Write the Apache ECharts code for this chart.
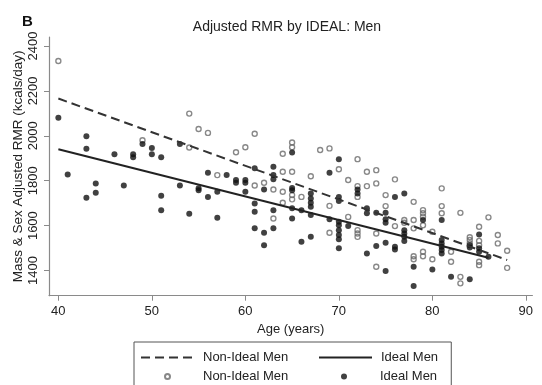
<!DOCTYPE html>
<html>
<head>
<meta charset="utf-8">
<script src="https://cdn.jsdelivr.net/npm/echarts@6/dist/echarts.min.js"></script>
<style>
  html, body { margin: 0; padding: 0; background: #fff; }
  #chart { width: 542px; height: 385px; }
</style>
</head>
<body>
<div id="chart"></div>
<script>
// scatter points [age, adjusted RMR]
let nonIdealPoints = [
  [40,2333],[49,1980],[54,2099],[54,1948],[55,2030],[56,2013],[57,1825],
  [59,1927],[60,1949],[61,2009],[61,1779],[62,1791],[63,1761],[63,1632],
  [64,1920],[64,1840],[64,1751],[64,1702],
  [65,1970],[65,1949],[65,1840],[65,1736],[65,1717],
  [66,1728],[67,1820],[68,1937],[69,1944],[69,1688],[69,1568],
  [70,1851],[71,1803],[71,1639],[72,1896],[72,1776],[72,1728],[72,1580],[72,1565],[72,1550],
  [73,1840],[73,1776],[74,1847],[74,1788],[74,1565],[74,1417],
  [75,1736],[75,1687],[76,1806],[76,1598],[77,1625],[77,1613],
  [78,1706],[78,1625],[78,1588],[78,1464],[78,1450],
  [79,1669],[79,1655],[79,1640],[79,1602],[79,1484],[79,1464],
  [80,1573],[80,1450],[81,1766],[81,1687],[81,1655],[82,1484],[82,1439],
  [83,1657],[83,1372],[83,1343],[84,1548],[84,1536],[84,1521],
  [85,1595],[85,1532],[85,1513],[85,1439],[85,1424],
  [86,1637],[87,1558],[87,1521],[88,1488],[88,1412]
];
let idealPoints = [
  [40,2080],[41,1828],[43,1998],[43,1942],[43,1724],[44,1788],[44,1746],[46,1918],[47,1779],
  [48,1918],[48,1904],[49,1963],[50,1946],[50,1918],[51,1904],[51,1733],[51,1669],[53,1963],
  [53,1779],[54,1653],[55,1766],[55,1758],[56,1835],[56,1728],[57,1751],[57,1635],
  [58,1825],[59,1803],[59,1791],[60,1803],[60,1791],[60,1751],[61,1856],[61,1699],[61,1662],
  [61,1588],[62,1761],[62,1568],[62,1513],[63,1862],[63,1825],[63,1806],[63,1669],[63,1588],
  [65,1926],[65,1768],[65,1758],[65,1677],[65,1632],[66,1669],[66,1528],[67,1743],[67,1721],
  [67,1702],[67,1684],[67,1647],[67,1550],[69,1835],[69,1628],
  [70,1896],[70,1728],[70,1710],[70,1617],[70,1602],[70,1580],[70,1558],[70,1539],[70,1499],
  [71,1598],[72,1761],[72,1743],[73,1677],[73,1655],[73,1476],
  [74,1657],[74,1509],[75,1657],[75,1628],[75,1613],[75,1524],[75,1398],[76,1728],[76,1506],
  [76,1494],[77,1743],[77,1580],[77,1565],[77,1550],[77,1532],[78,1417],[78,1331],[79,1625],
  [80,1405],[81,1625],[81,1536],[81,1521],[81,1506],[81,1491],[81,1476],[82,1372],[84,1361],
  [84,1513],[84,1503],[85,1561],[85,1499],[85,1484],[86,1461]
];

// fitted lines (end points)
let nonIdealFit = [[40,2166],[88,1447]];
let idealFit = [[40,1940],[86,1457]];

let xTicks = [40, 50, 60, 70, 80, 90];
let yTicks = [1400, 1600, 1800, 2000, 2200, 2400];

const fontFamily = '"Liberation Sans", Arial, sans-serif';
const axisGray = '#8a8a8a';
const noMarker = { color: 'rgba(0,0,0,0)', borderColor: 'rgba(0,0,0,0)', borderWidth: 0 };

// one legend per entry so each sits where the reference has it
function legendItem(name, left, top, textGap, extra) {
    return Object.assign({
        left: left,
        top: top,
        padding: 0,
        itemWidth: 53,
        itemHeight: 12,
        textStyle: { fontSize: 13, color: '#222', fontFamily: fontFamily, padding: [0, 0, 0, textGap] },
        data: [name]
    }, extra || {});
}

let options = {
    animation: false,
    textStyle: { fontFamily: fontFamily },
    title: [
        {
            text: 'B',
            left: 17,
            top: 9,
            textStyle: { fontSize: 15, fontWeight: 'bold', color: '#111', fontFamily: fontFamily }
        },
        {
            text: 'Adjusted RMR by IDEAL: Men',
            left: 282,
            top: 15,
            textAlign: 'center',
            textStyle: { fontSize: 14, fontWeight: 'normal', color: '#222', fontFamily: fontFamily }
        }
    ],
    grid: {
        left: 49,
        right: 9.6,
        top: 37,
        bottom: 89.3,
        outerBoundsMode: 'none'
    },
    xAxis: {
        type: 'value',
        min: 39,
        max: 90.7,
        name: 'Age (years)',
        nameLocation: 'middle',
        nameGap: 25,
        nameTextStyle: { fontSize: 13, color: '#222' },
        axisLine: { show: true, lineStyle: { color: axisGray, width: 1.2 } },
        axisTick: { show: true, length: 5, lineStyle: { color: axisGray }, customValues: xTicks },
        axisLabel: { fontSize: 13, color: '#222', margin: 9, customValues: xTicks },
        splitLine: { show: false }
    },
    yAxis: {
        type: 'value',
        min: 1288,
        max: 2440,
        name: 'Mass & Sex Adjusted RMR (kcals/day)',
        nameLocation: 'middle',
        nameGap: 24,
        nameMoveOverlap: false,
        nameRotate: 90,
        nameTextStyle: { fontSize: 13.5, color: '#222' },
        axisLine: { show: true, lineStyle: { color: axisGray, width: 1.2 } },
        axisTick: { show: true, length: 5, lineStyle: { color: axisGray }, customValues: yTicks },
        axisLabel: {
            fontSize: 13, color: '#222', margin: 9, rotate: 90, customValues: yTicks,
            formatter: (v) => String(v)
        },
        splitLine: { show: false }
    },
    legend: [
        // box round the whole key (first entry carries the border)
        legendItem('Non-Ideal Men', 134, 342, 4, {
            padding: [9, 163, 40, 6],
            borderColor: '#555',
            borderWidth: 1,
            itemStyle: noMarker
        }),
        legendItem('Ideal Men', 318, 351, 4, { itemStyle: noMarker }),
        legendItem('Non-Ideal Men ', 164, 370, 28, { itemWidth: 5, itemHeight: 5 }),
        legendItem('Ideal Men ', 341, 370, 28, { itemWidth: 6, itemHeight: 6 })
    ],
    series: [
        {
            name: 'Non-Ideal Men ',
            type: 'scatter',
            symbol: 'circle',
            symbolSize: 5,
            itemStyle: { color: 'rgba(255,255,255,0)', borderColor: '#6a6a6a', borderWidth: 1.4 },
            data: nonIdealPoints
        },
        {
            name: 'Ideal Men ',
            type: 'scatter',
            symbol: 'circle',
            symbolSize: 6,
            itemStyle: { color: '#111' },
            data: idealPoints
        },
        {
            name: 'Non-Ideal Men',
            type: 'line',
            symbol: 'none',
            lineStyle: { color: '#333', width: 2, type: [9, 5] },
            itemStyle: { color: '#333' },
            data: nonIdealFit
        },
        {
            name: 'Ideal Men',
            type: 'line',
            symbol: 'none',
            lineStyle: { color: '#222', width: 2 },
            itemStyle: { color: '#222' },
            data: idealFit
        }
    ]
};

let chart = echarts.init(document.getElementById('chart'), null, { renderer: 'canvas' });
chart.setOption(options);
</script>
</body>
</html>
